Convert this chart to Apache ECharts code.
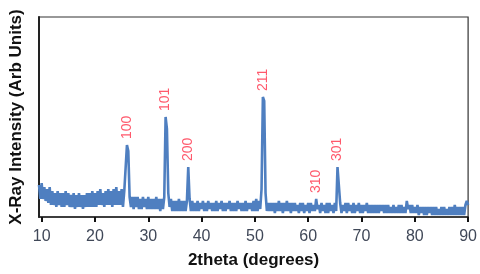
<!DOCTYPE html>
<html>
<head>
<meta charset="utf-8">
<script src="https://cdn.jsdelivr.net/npm/echarts@6/dist/echarts.min.js"></script>
<style>
  html, body { margin: 0; padding: 0; background: #fff; }
  #chart { width: 480px; height: 274px; }
</style>
</head>
<body>
<div id="chart"></div>
<script>
// scan grid (start / step, as in the instrument file)
const scanStart = 9.5;
const scanStep = 0.25;
// intensity, 4 points per degree
const intensity = [
  16, 9,
  17, 9, 15, 8,   14, 7, 15, 6,   13, 6, 12, 5,   13, 6, 12, 5,   12, 5, 13, 6,
  12, 5, 11, 5,   12, 4, 11, 5,   12, 5, 11, 4,   11, 5, 12, 5,   12, 5, 13, 5,
  12, 5, 13, 6,   14, 6, 12, 5,   13, 6, 14, 6,   13, 5, 14, 6,   15, 6, 13, 6,
  14, 5, 13, 12,  36, 33, 10, 5,  10, 4, 10, 5,   10, 4, 9, 4,    10, 5, 9, 4,
  10, 4, 9, 4,    9, 4, 10, 4,    9, 3, 9, 4,     10, 50, 44, 12, 5, 9, 3, 8,
  3, 8, 3, 9,     3, 8, 3, 8,     3, 8, 25, 9,    3, 8, 3, 7,     3, 8, 3, 7,
  4, 8, 3, 7,     3, 8, 4, 7,     3, 7, 3, 8,     3, 7, 4, 8,     3, 7, 3, 7,
  4, 8, 3, 7,     3, 7, 3, 8,     4, 7, 3, 7,     3, 8, 3, 7,     4, 7, 3, 8,
  3, 9, 3, 8,     4, 14, 60, 58,  12, 3, 7, 3,    7, 3, 7, 2,     7, 3, 8, 3,
  7, 2, 7, 3,     8, 3, 7, 2,     7, 3, 7, 3,     6, 2, 7, 3,     7, 2, 6, 3,
  7, 2, 7, 3,     6, 3, 9, 4,     6, 2, 7, 3,     6, 2, 7, 2,     7, 3, 6, 2,
  7, 3, 25, 24,   7, 2, 6, 3,     7, 2, 7, 3,     6, 2, 7, 2,     6, 3, 7, 2,
  6, 2, 6, 3,     7, 2, 6, 2,     6, 2, 6, 2,     6, 2, 6, 3,     6, 2, 6, 2,
  6, 2, 5, 2,     6, 2, 5, 2,     6, 2, 6, 2,     5, 2, 8, 4,     6, 2, 6, 2,
  5, 2, 6, 1,     5, 2, 5, 1,     5, 1, 5, 2,     5, 1, 5, 1,     5, 1, 4, 1,
  5, 1, 5, 1,     4, 1, 5, 1,     5, 1, 6, 1,     5, 1, 5, 1,     5, 1, 6, 8,
  6
];

// peak labels (hkl)
const peakLabels = ["100", "101", "200", "211", "310", "301"];
const peakTheta = [26, 33.25, 37.5, 51.5, 61.5, 65.5];
const peakHeight = [36, 50, 25, 60, 9, 25];

const xTicks = [10, 20, 30, 40, 50, 60, 70, 80, 90];

const scan = intensity.map((v, i) => [scanStart + i * scanStep, v]);
const peaks = peakTheta.map((t, i) => [t, peakHeight[i], peakLabels[i]]);

const chart = echarts.init(document.getElementById("chart"));
const option = {
  animation: false,
  grid: {
    left: 37,
    right: 8,
    top: 17,
    bottom: 52,
    show: true,
    borderColor: "#333",
    borderWidth: 1.2
  },
  xAxis: {
    type: "value",
    min: 9.5,
    max: 90,
    name: "2theta (degrees)",
    nameLocation: "middle",
    nameGap: 35,
    nameTextStyle: {
      fontFamily: "Liberation Sans",
      fontWeight: "bold",
      fontSize: 17,
      color: "#111"
    },
    axisLine: { lineStyle: { color: "#222", width: 1.5 } },
    axisTick: { customValues: xTicks, length: 5, lineStyle: { color: "#111", width: 2 } },
    axisLabel: {
      customValues: xTicks,
      margin: 12,
      fontFamily: "Liberation Sans",
      fontSize: 16,
      color: "#404858"
    },
    splitLine: { show: false }
  },
  yAxis: {
    type: "value",
    min: 0,
    max: 100,
    name: "X-Ray Intensity (Arb Units)",
    nameLocation: "middle",
    nameGap: 14,
    nameTextStyle: {
      fontFamily: "Liberation Sans",
      fontWeight: "bold",
      fontSize: 17,
      color: "#111"
    },
    axisLine: { show: true, lineStyle: { color: "#222", width: 2 } },
    axisTick: { show: false },
    axisLabel: { show: false },
    splitLine: { show: false }
  },
  series: [
    {
      name: "scan",
      type: "line",
      data: scan,
      symbol: "none",
      lineStyle: { color: "#4f7fc0", width: 2.6 }
    },
    {
      name: "peaks",
      type: "scatter",
      data: peaks,
      symbolSize: 0,
      silent: true,
      label: {
        show: true,
        position: "top",
        distance: 6,
        rotate: 90,
        align: "left",
        verticalAlign: "middle",
        formatter: p => p.data[2],
        fontFamily: "Liberation Sans",
        fontSize: 14,
        color: "#ff3047"
      }
    }
  ]
};
chart.setOption(option);
</script>
</body>
</html>
